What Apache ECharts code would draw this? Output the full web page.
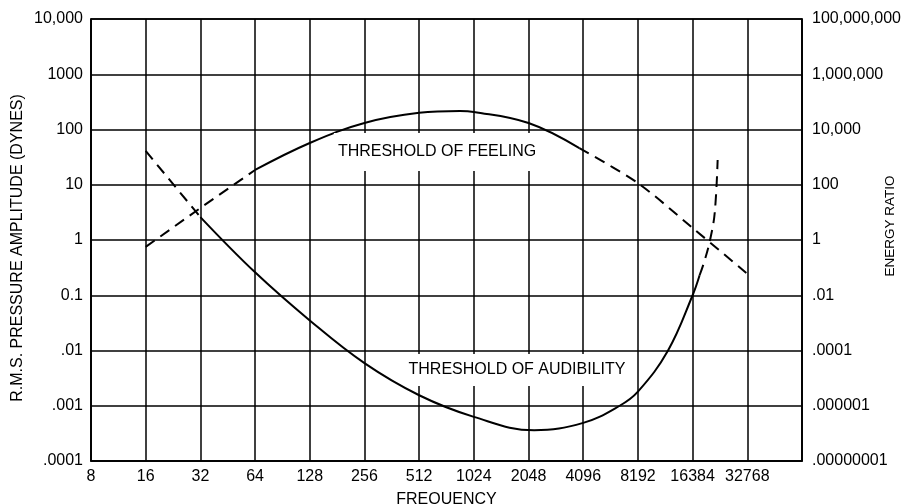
<!DOCTYPE html>
<html>
<head>
<meta charset="utf-8">
<script src="https://cdn.jsdelivr.net/npm/echarts@6/dist/echarts.min.js"></script>
<style>
html, body { margin: 0; padding: 0; background: #fff; }
#chart { width: 904px; height: 504px; }
</style>
</head>
<body>
<div id="chart"></div>
<script>
// tick labels
const freqLabels = ['8', '16', '32', '64', '128', '256', '512', '1024', '2048', '4096', '8192', '16384', '32768', ''];
const pressureLabels = ['.0001', '.001', '.01', '0.1', '1', '10', '100', '1000', '10,000'];
const energyLabels = ['.00000001', '.000001', '.0001', '.01', '1', '100', '10,000', '1,000,000', '100,000,000'];

// [frequency, pressure amplitude in dynes]
const feelingLow = [[16, 0.75], [32, 3.8], [64, 18.5]];
const feeling = [[64, 18.5], [128, 57], [256, 131], [512, 200], [860, 216], [1024, 208], [2048, 131], [3900, 46]];
const feelingHigh = [[3900, 46], [8192, 10.7], [16384, 1.65], [33000, 0.24]];

const audibilityLow = [[16, 41], [32, 2.6]];
const audibility = [[32, 2.6], [64, 0.26], [128, 0.035], [256, 0.0059], [512, 0.00155], [1024, 0.00063],
  [2200, 0.00036], [4096, 0.00049], [6500, 0.001], [8192, 0.0018], [12000, 0.01],
  [16384, 0.1], [17900, 0.23]];
const audibilityHigh = [[17900, 0.23], [19100, 0.43], [20600, 1.13], [21700, 3.2], [22500, 28]];

const font = '"Liberation Sans", Arial, Helvetica, sans-serif';
const black = '#000';

function curve(data, dashed, smooth) {
  return {
    type: 'line',
    data: data,
    symbol: 'none',
    smooth: smooth,
    silent: true,
    lineStyle: {
      color: black,
      width: 2,
      type: dashed ? [11, 7] : 'solid',
    },
  };
}

const chart = echarts.init(document.getElementById('chart'));
chart.setOption({
  animation: false,
  backgroundColor: '#fff',
  grid: {
    left: 91,
    right: 102,
    top: 19,
    bottom: 43,
    outerBoundsMode: 'none',
    containLabel: false,
    show: true,
    borderColor: black,
    borderWidth: 1.5,
  },
  xAxis: {
    type: 'log',
    logBase: 2,
    min: 8,
    max: 65536,
    interval: 1,
    splitNumber: 13,
    name: 'FREQUENCY',
    nameLocation: 'middle',
    nameGap: 31,
    nameMoveOverlap: false,
    nameTextStyle: { fontFamily: font, fontSize: 16, color: black },
    axisLine: { lineStyle: { color: black, width: 1.5 } },
    axisTick: { show: false },
    splitLine: { show: true, lineStyle: { color: black, width: 1.5 } },
    axisLabel: {
      fontFamily: font,
      fontSize: 16,
      color: black,
      margin: 8,
      formatter: (v) => freqLabels[Math.round(Math.log2(v)) - 3] || '',
    },
  },
  yAxis: [
    {
      type: 'log',
      logBase: 10,
      min: 0.0001,
      max: 10000,
      splitNumber: 8,
      name: 'R.M.S. PRESSURE AMPLITUDE (DYNES)',
      nameLocation: 'middle',
      nameGap: 65,
      nameMoveOverlap: false,
      nameTextStyle: { fontFamily: font, fontSize: 16, color: black, padding: [0, 16, 0, 0] },
      axisLine: { show: true, lineStyle: { color: black, width: 1.5 } },
      axisTick: { show: false },
      splitLine: { show: true, lineStyle: { color: black, width: 1.5 } },
      axisLabel: {
        fontFamily: font,
        fontSize: 16,
        color: black,
        margin: 8,
        formatter: (v) => pressureLabels[Math.round(Math.log10(v)) + 4] || '',
      },
    },
    {
      type: 'log',
      logBase: 100,
      min: 1e-8,
      max: 1e8,
      splitNumber: 8,
      position: 'right',
      name: 'ENERGY RATIO',
      nameLocation: 'middle',
      nameRotate: 90,
      nameGap: 81,
      nameMoveOverlap: false,
      nameTextStyle: { fontFamily: font, fontSize: 13.5, color: black, padding: [0, 0, 0, 28] },
      axisLine: { show: true, lineStyle: { color: black, width: 1.5 } },
      axisTick: { show: false },
      splitLine: { show: false },
      axisLabel: {
        fontFamily: font,
        fontSize: 16,
        color: black,
        margin: 10,
        formatter: (v) => energyLabels[Math.round(Math.log10(v) / 2) + 4] || '',
      },
    },
  ],
  graphic: [
    {
      type: 'text',
      x: 437,
      y: 152,
      z: 100,
      style: {
        text: 'THRESHOLD OF FEELING',
        font: '16px ' + font,
        fill: black,
        align: 'center',
        verticalAlign: 'middle',
        backgroundColor: '#fff',
        padding: [14, 4, 8, 4],
      },
    },
    {
      type: 'text',
      x: 517,
      y: 370,
      z: 100,
      style: {
        text: 'THRESHOLD OF AUDIBILITY',
        font: '16px ' + font,
        fill: black,
        align: 'center',
        verticalAlign: 'middle',
        backgroundColor: '#fff',
        padding: [8, 4, 8, 4],
      },
    },
  ],
  series: [
    curve(feelingLow, true, false),
    curve(feeling, false, 0.4),
    curve(feelingHigh, true, 0.3),
    curve(audibilityLow, true, false),
    curve(audibility, false, 0.4),
    curve(audibilityHigh, true, 0.4),
  ],
});
</script>
</body>
</html>
